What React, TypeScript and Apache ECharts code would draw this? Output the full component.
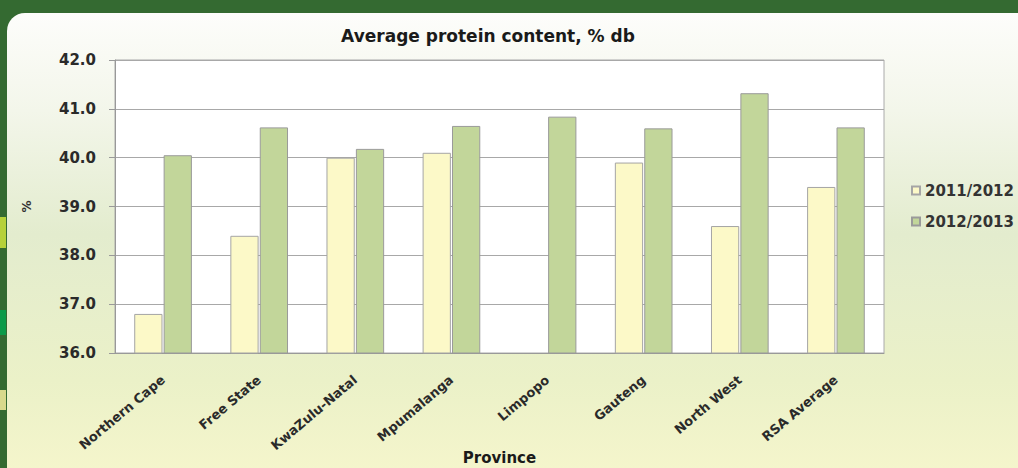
import React, { useEffect, useRef } from "react";
import * as echarts from "echarts";

const provinces = [
  "Northern Cape",
  "Free State",
  "KwaZulu-Natal",
  "Mpumalanga",
  "Limpopo",
  "Gauteng",
  "North West",
  "RSA Average",
];
const season2011: (number | null)[] = [36.8, 38.4, 40.0, 40.1, null, 39.9, 38.6, 39.4];
const season2012: number[] = [40.05, 40.62, 40.18, 40.65, 40.84, 40.6, 41.32, 40.62];
const seriesNames = ["2011/2012", "2012/2013"];
const yMin = 36;
const yMax = 42;
const yStep = 1;

const FONT = "'DejaVu Sans', 'Open Sans', sans-serif";

export default function App() {
  const ref = useRef<HTMLDivElement>(null);
  useEffect(() => {
    if (!ref.current) return;
    const chart = echarts.init(ref.current, undefined, { renderer: "svg" });
    chart.setOption({
      animation: false,
      backgroundColor: "#346a31",
      textStyle: { fontFamily: FONT },
      graphic: {
        elements: [
          {
            type: "rect",
            z: -100,
            silent: true,
            shape: { x: 7, y: 13, width: 1040, height: 490, r: 18 },
            style: {
              fill: new echarts.graphic.LinearGradient(0, 0, 0, 1, [
                { offset: 0, color: "#fdfdfb" },
                { offset: 0.2, color: "#f3f6ea" },
                { offset: 0.45, color: "#e3ecce" },
                { offset: 0.75, color: "#ebf1c8" },
                { offset: 1, color: "#f8f7cd" },
              ]),
            },
          },
          { type: "rect", z: -100, silent: true, shape: { x: 0, y: 217, width: 6, height: 31 }, style: { fill: "#b6d13a" } },
          { type: "rect", z: -100, silent: true, shape: { x: 0, y: 310, width: 6, height: 25 }, style: { fill: "#0c9a48" } },
          { type: "rect", z: -100, silent: true, shape: { x: 0, y: 390, width: 6, height: 20 }, style: { fill: "#d8d98c" } },
        ],
      },
      title: {
        text: "Average protein content, % db",
        left: 483,
        textAlign: "center",
        top: 22,
        textStyle: { fontFamily: FONT, fontSize: 17, fontWeight: "bold", color: "#1a1a1a" },
      },
      legend: {
        orient: "vertical",
        left: 906,
        top: 178,
        itemWidth: 8,
        itemHeight: 8,
        itemGap: 16,
        icon: "rect",
        textStyle: { fontFamily: FONT, fontSize: 15, fontWeight: "bold", color: "#333" },
        data: seriesNames,
      },
      grid: {
        left: 115,
        right: 134,
        top: 60,
        bottom: 115,
        containLabel: false,
        outerBoundsMode: "none",
        show: true,
        backgroundColor: "#ffffff",
        borderColor: "#aaaaaa",
        borderWidth: 1,
      },
      xAxis: {
        type: "category",
        data: provinces,
        name: "Province",
        nameLocation: "middle",
        nameGap: 97,
        nameMoveOverlap: false,
        nameTextStyle: { fontFamily: FONT, fontSize: 15, fontWeight: "bold", color: "#1a1a1a" },
        axisLine: { lineStyle: { color: "#999" } },
        axisTick: { show: false },
        axisLabel: {
          rotate: 40,
          interval: 0,
          margin: 25,
          fontFamily: FONT,
          fontSize: 13,
          fontWeight: "bold",
          color: "#2a2a2a",
        },
      },
      yAxis: {
        type: "value",
        min: yMin,
        max: yMax,
        interval: yStep,
        name: "%",
        nameLocation: "middle",
        nameRotate: 90,
        nameGap: 82,
        nameMoveOverlap: false,
        nameTextStyle: { fontFamily: FONT, fontSize: 12, fontWeight: "bold", color: "#333" },
        axisLine: { show: true, lineStyle: { color: "#999" } },
        axisTick: { show: true, length: 6, lineStyle: { color: "#999" } },
        splitLine: { lineStyle: { color: "#a8a8a8" } },
        axisLabel: {
          formatter: (v: number) => v.toFixed(1),
          margin: 19,
          fontFamily: FONT,
          fontSize: 15,
          fontWeight: "bold",
          color: "#2a2a2a",
        },
      },
      series: [
        {
          name: seriesNames[0],
          type: "bar",
          data: season2011,
          barGap: "4%",
          barCategoryGap: "40%",
          itemStyle: { color: "#fcf9c8", borderColor: "#a5a5a5", borderWidth: 1 },
        },
        {
          name: seriesNames[1],
          type: "bar",
          data: season2012,
          itemStyle: { color: "#c2d69a", borderColor: "#9a9a9a", borderWidth: 1 },
        },
      ],
    });
    return () => chart.dispose();
  }, []);
  return (
    <div
      ref={ref}
      style={{ position: "fixed", left: 0, top: 0, width: 1018, height: 468 }}
    />
  );
}
